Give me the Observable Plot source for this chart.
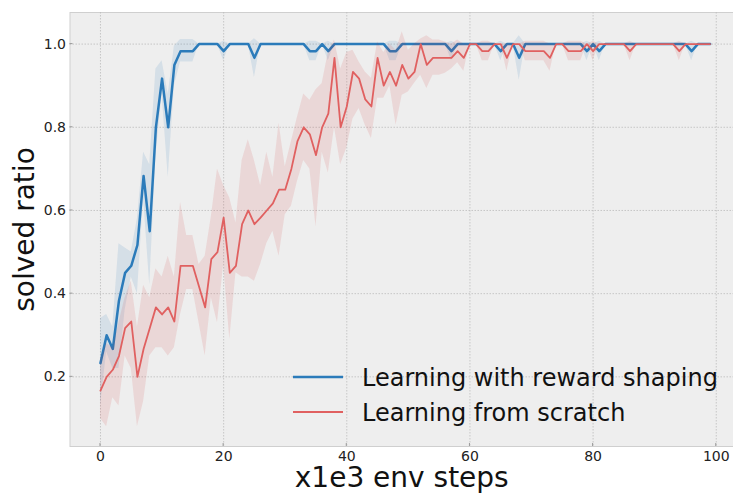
<!DOCTYPE html>
<html><head><meta charset="utf-8">
<script src="https://cdn.jsdelivr.net/npm/d3@7"></script>
<script src="https://cdn.jsdelivr.net/npm/@observablehq/plot@0.6"></script>
<style>
html,body{margin:0;padding:0;background:#fff;}
#chart{position:relative;width:733px;height:493px;}
</style></head><body><div id="chart"></div>
<script>
const steps = d3.range(100);
const xTicks = [0, 20, 40, 60, 80, 100];
const yTicks = [0.2, 0.4, 0.6, 0.8, 1.0];
const seriesNames = ["Learning with reward shaping", "Learning from scratch"];
const xLabel = "x1e3 env steps";
const yLabel = "solved ratio";

const blueMean = [
0.233,0.300,0.267,0.383,0.450,0.467,0.517,0.683,0.550,0.800,
0.917,0.800,0.950,0.983,0.983,0.983,1,1,1,1,
0.983,1,1,1,1,0.967,1,1,1,1,
1,1,1,1,0.983,0.983,1,0.983,1,1,
1,1,1,1,1,1,1,0.983,0.983,1,
1,1,1,1,1,1,1,0.983,1,1,
1,1,1,1,1,0.983,1,1,0.967,1,
1,1,1,1,1,1,1,1,1,0.983,
1,0.983,1,1,1,1,1,1,1,1,
1,1,1,1,1,1,0.983,1,1,1];
const blueLo = [
0.13,0.26,0.22,0.22,0.36,0.44,0.40,0.63,0.42,0.73,
0.88,0.68,0.90,0.957,0.957,0.957,1,1,1,1,
0.96,1,1,1,1,0.92,1,1,1,1,
1,1,1,1,0.96,0.96,1,0.96,1,1,
1,1,1,1,1,1,1,0.96,0.96,1,
1,1,1,1,1,1,1,0.96,1,1,
1,1,1,1,1,0.96,1,1,0.913,1,
1,1,1,1,1,1,1,1,1,0.96,
1,0.96,1,1,1,1,1,1,1,1,
1,1,1,1,1,1,0.96,1,1,1];
const blueHi = [
0.34,0.35,0.32,0.52,0.51,0.50,0.58,0.74,0.71,0.94,
0.96,0.88,0.995,1.011,1.011,1.011,1,1,1,1,
1.007,1,1,1,1,1.013,1,1,1,1,
1,1,1,1,1.007,1.007,1,1.007,1,1,
1,1,1,1,1,1,1,1.007,1.007,1,
1,1,1,1,1,1,1,1.007,1,1,
1,1,1,1,1,1.007,1,1,1.02,1,
1,1,1,1,1,1,1,1,1,1.007,
1,1.007,1,1,1,1,1,1,1,1,
1,1,1,1,1,1,1.007,1,1,1];

const redMean = [
0.167,0.200,0.217,0.250,0.317,0.333,0.200,0.267,0.317,0.367,
0.350,0.367,0.333,0.467,0.467,0.467,0.417,0.367,0.483,0.500,
0.583,0.450,0.467,0.567,0.600,0.567,0.583,0.600,0.617,0.650,
0.650,0.700,0.767,0.800,0.783,0.733,0.800,0.833,0.967,0.800,
0.850,0.933,0.917,0.867,0.850,0.967,0.900,0.933,0.900,0.950,
0.917,0.933,1.000,0.950,0.967,0.967,0.967,0.967,0.983,0.967,
1,1,0.983,0.983,1,1,0.967,1,1,0.983,
0.983,0.983,0.983,0.967,1,1,0.983,0.983,0.983,1,
0.983,1,1,1,1,1,0.983,1,1,1,
1,1,1,1,0.983,1,1,1,1,1];
const redLo = [
0.10,0.08,0.15,0.13,0.25,0.22,0.08,0.14,0.25,0.27,
0.27,0.25,0.27,0.35,0.41,0.41,0.33,0.25,0.39,0.33,
0.47,0.29,0.45,0.44,0.44,0.43,0.47,0.52,0.55,0.49,
0.59,0.61,0.67,0.72,0.70,0.56,0.74,0.69,0.80,0.71,
0.75,0.82,0.845,0.805,0.773,0.87,0.87,0.90,0.805,0.877,
0.885,0.906,0.925,0.893,0.925,0.925,0.93,0.94,0.955,0.935,
1,1,0.96,0.96,1,1,0.935,1,1,0.96,
0.96,0.96,0.96,0.935,1,1,0.96,0.96,0.96,1,
0.96,1,1,1,1,1,0.96,1,1,1,
1,1,1,1,0.96,1,1,1,1,1];
const redHi = [
0.24,0.28,0.27,0.33,0.39,0.43,0.32,0.42,0.39,0.46,
0.44,0.49,0.44,0.62,0.54,0.54,0.47,0.49,0.585,0.70,
0.66,0.63,0.57,0.72,0.77,0.72,0.66,0.74,0.68,0.81,
0.705,0.765,0.825,0.88,0.865,0.89,0.905,0.98,1.01,0.94,
0.98,0.985,0.957,0.933,0.918,1.005,0.98,1.0,0.985,1.03,
0.985,1.0,1.012,1.02,1.01,1.01,1.005,1.0,1.01,1.0,
1,1,1.007,1.007,1,1,1.0,1,1,1.007,
1.007,1.007,1.007,1.0,1,1,1.007,1.007,1.007,1,
1.007,1,1,1,1,1,1.007,1,1,1,
1,1,1,1,1.007,1,1,1,1,1];

const blueColor = "#2b7bba", redColor = "#e06060";
const rows = steps.map((s, i) => ({step: s, bm: blueMean[i], bl: blueLo[i], bh: blueHi[i], rm: redMean[i], rl: redLo[i], rh: redHi[i]}));

const chart = Plot.plot({
  width: 733, height: 493,
  marginLeft: 69.5, marginRight: 0, marginTop: 12, marginBottom: 47,
  style: {fontFamily: "DejaVu Sans", fontSize: "14px", background: "#ffffff", color: "#222"},
  x: {domain: [-4.95, 102.8]},
  y: {domain: [0.0325, 1.076]},
  marks: [
    Plot.frame({fill: "#eeeeee", stroke: "#cfcfcf"}),
    Plot.gridX(xTicks, {stroke: "#bdbdbd", strokeOpacity: 1, strokeWidth: 0.8, strokeDasharray: "1.5,1.5"}),
    Plot.gridY(yTicks, {stroke: "#bdbdbd", strokeOpacity: 1, strokeWidth: 0.8, strokeDasharray: "1.5,1.5"}),
    Plot.areaY(rows, {x: "step", y1: "bl", y2: "bh", fill: "#1f77b4", fillOpacity: 0.12}),
    Plot.lineY(rows, {x: "step", y: "bm", stroke: blueColor, strokeWidth: 2.5}),
    Plot.areaY(rows, {x: "step", y1: "rl", y2: "rh", fill: "#d62728", fillOpacity: 0.11}),
    Plot.lineY(rows, {x: "step", y: "rm", stroke: redColor, strokeWidth: 1.8}),
    Plot.axisX(xTicks, {tickSize: 0, tickPadding: 5, label: null, fontSize: 14}),
    Plot.axisY(yTicks, {tickSize: 0, tickPadding: 4, label: null, fontSize: 14, tickFormat: d3.format(".1f")}),
    Plot.text([xLabel], {text: d => d, frameAnchor: "bottom", textAnchor: "middle", lineAnchor: "middle", dy: 32, fontSize: 28, fill: "#111"}),
    Plot.text([yLabel], {text: d => d, frameAnchor: "left", textAnchor: "middle", lineAnchor: "middle", dx: -45, rotate: -90, fontSize: 28, fill: "#111"})
  ]
});
document.getElementById("chart").appendChild(chart);

const svg = d3.select(chart.tagName.toLowerCase() === "svg" ? chart : chart.querySelector("svg"));
// short inward tick marks placed with the chart's own scales
try {
  const sx = chart.scale("x"), sy = chart.scale("y");
  const tg = svg.append("g").attr("stroke", "#999").attr("stroke-width", 1);
  const yBottom = sy.apply(sy.domain[0]), xLeft = sx.apply(sx.domain[0]);
  xTicks.forEach(t => {
    const px = sx.apply(t);
    tg.append("line").attr("x1", px).attr("x2", px).attr("y1", yBottom).attr("y2", yBottom - 3);
  });
  yTicks.forEach(t => {
    const py = sy.apply(t);
    tg.append("line").attr("x1", xLeft).attr("x2", xLeft + 3).attr("y1", py).attr("y2", py);
  });
} catch (e) {}

// legend
const lg = svg.append("g").attr("font-family", "DejaVu Sans").attr("font-size", 24).attr("fill", "#111").attr("text-anchor", "start");
const legendItems = [{name: seriesNames[0], color: blueColor, w: 2.5}, {name: seriesNames[1], color: redColor, w: 1.8}];
legendItems.forEach((it, i) => {
  const y = 377 + i * 35;
  lg.append("line").attr("x1", 293).attr("x2", 343).attr("y1", y).attr("y2", y).attr("stroke", it.color).attr("stroke-width", it.w);
  lg.append("text").attr("x", 362).attr("y", y + 8.5).attr("text-anchor", "start").text(it.name);
});
</script>
</body></html>
